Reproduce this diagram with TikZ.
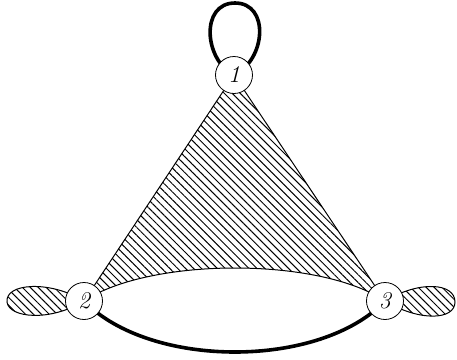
\documentclass[tikz,border=0pt]{standalone}
\usetikzlibrary{patterns,patterns.meta,backgrounds}

\tikzset{
  vertex/.style={circle,draw,fill=white,minimum size=18.5pt,inner sep=0pt,font=\large\itshape},
  hatched/.style={draw,line width=0.5pt,pattern={Lines[angle=-45,distance=2.8pt,line width=0.5pt]}},
  heavy/.style={line width=1.8pt}
}

\begin{document}
\begin{tikzpicture}[x=0.5pt,y=-0.5pt]
    \useasboundingbox (0,0) rectangle (457,360);
    \node[vertex] (n1) at (234,75) {1};
    \node[vertex] (n2) at (84,301) {2};
    \node[vertex] (n3) at (385,301) {3};
    \begin{pgfonlayer}{background}
    % shaded face and the two small lobes
    \path[hatched] (n1.center) -- (n2.center) .. controls (150,257) and (320,257) .. (n3.center) -- cycle;
    \path[hatched] (n2.center) .. controls (50,280) and (5,283) .. (7,302) .. controls (9,318) and (50,322) .. (n2.center);
    \path[hatched] (n3.center) .. controls (420,280) and (455,283) .. (455,302) .. controls (455,320) and (420,322) .. (n3.center);
    % thick edges
    \draw[heavy] (n1.center) .. controls (204,60) and (200,3) .. (235,3) .. controls (270,3) and (266,60) .. (n1.center);
    \draw[heavy] (n2.center) .. controls (150,369) and (320,369) .. (n3.center);
    \end{pgfonlayer}
\end{tikzpicture}
\end{document}
